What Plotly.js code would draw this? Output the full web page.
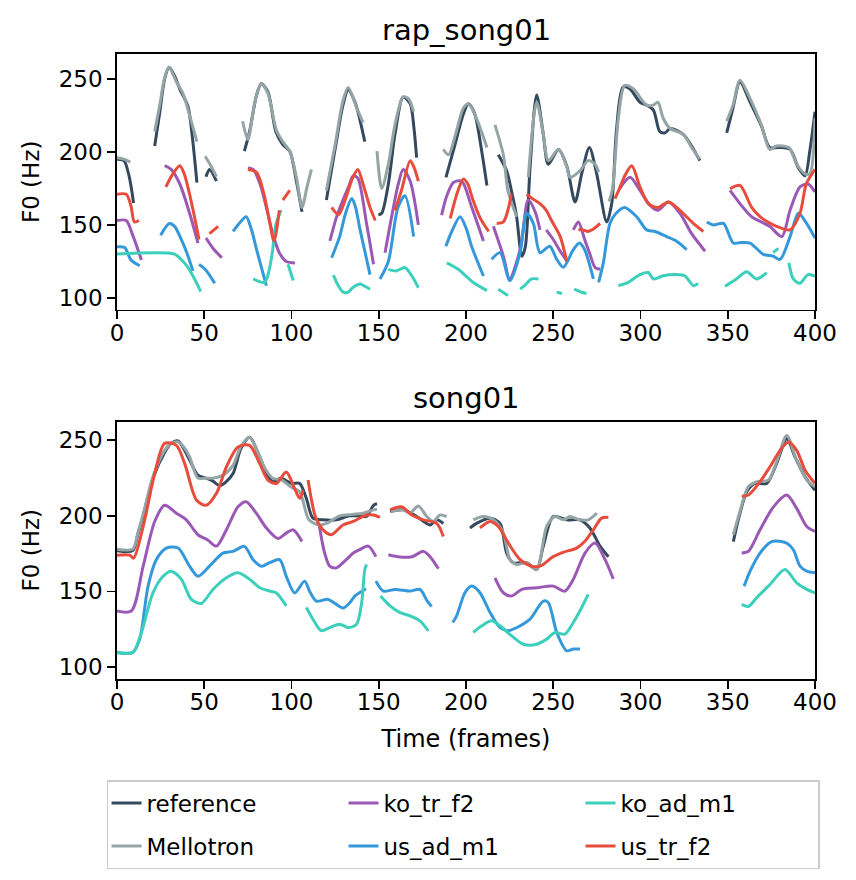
<!DOCTYPE html>
<html>
<head>
<meta charset="utf-8">
<script src="https://cdn.plot.ly/plotly-3.0.1.min.js"></script>
<style>
  html, body { margin: 0; padding: 0; background: #fff; }
  #f0Plot { width: 856px; height: 880px; }
</style>
</head>
<body>
<div id="f0Plot"></div>
<script>
// series names / colours (legend order is column-wise like the original)
var seriesNames = ["reference", "Mellotron", "ko_tr_f2", "us_ad_m1", "ko_ad_m1", "us_tr_f2"];
var seriesColors = ["#34495e", "#95a5a6", "#9b59b6", "#3498db", "#3ccfbb", "#e74c3c"];
var legendRanks = [1, 4, 2, 5, 3, 6];

var xTicks = [0, 50, 100, 150, 200, 250, 300, 350, 400];
var yTicks = [100, 150, 200, 250];

// ---- rap_song01 : [frame, F0] pairs, null = unvoiced gap ----
var rapRef = [
  [0,195],[4,194],[7,183],[9.5,165], null,
  [21.6,204],[24.5,227],[27.3,250],[29.8,258],[33,252],[36,243],[40.7,231],[43,212],[45.8,179], null,
  [51,183],[53,188],[57,180], null,
  [73,200.5],[76,214],[80,239],[82.7,246.6],[86.5,241],[91,214],[95,205],[99,200.5],[102.8,180],[106,159], null,
  [120,167],[125.7,207],[129.5,232],[132.5,242.5],[136.4,234],[139,223],[142,207], null,
  [149.8,157],[151.7,158],[155.5,178],[159.3,212],[164,237.6],[168,233],[170.2,216],[171.7,196], null,
  [188.5,182.6],[193.7,205],[198.5,226],[201.4,233],[205,226],[209,200.5],[212,177], null,
  [218.5,198],[223.3,187],[226,173.6],[229,155.6],[232,128.6],[234,135],[236.7,189],[240.5,239],[244.3,212],
  [247.2,191.5],[253,201.7],[257.7,190.5],[262.5,165.7],[266.3,185],[270.7,203],[274.9,185],[280.6,152],
  [283.5,164.6],[286.3,216],[290,244.4],[294,243],[299.7,234],[303.5,232],[307.4,228.6],[311,214],[314,213],
  [317,216],[324.5,212],[329.3,204],[334,194], null,
  [349.4,213],[353,230],[357,247.8],[362.8,234],[369.4,217.4],[374,203],[379,203],[385.7,201.7],[390.5,189],
  [394.3,183.7],[397,200.5],[400,227.5]
];
var rapMel = [
  [0,196],[4,195],[7.6,193], null,
  [21.6,214],[24.5,232],[27.3,251],[29.8,258],[34,248],[37.8,240],[41.6,225],[45.8,207], null,
  [50.5,197],[54,190],[57,183], null,
  [72,221],[75,208.4],[79,234],[82.7,246.6],[86.5,240],[91.3,215],[95,207],[99,200.5],[102.8,182.6],[106,162],
  [108.9,176],[111.4,188], null,
  [120,173.6],[125,205],[129.5,235],[132.5,244],[137.4,230],[141,220], null,
  [149,200.5],[151.7,175],[155.5,191.6],[159.3,218.5],[164,237.6],[167,236.5],[170,227.5], null,
  [187,201.7],[190,198],[194,212],[198.5,230],[201.4,233],[206,223],[212,203], null,
  [216.6,218.5],[221.4,198],[224,173.6],[229,155.6], null,
  [235.7,182.6],[240.5,234],[244.3,212],[247.2,194],[253,201.7],[257.7,190],[259.6,182.6],[265.3,187],
  [270,194],[274,191.5],[276,186], null,
  [282,166],[284,175],[287.3,223],[291,245.5],[296,243],[303.5,232],[307.4,232],[310,234],[313,223],
  [317,216],[324.5,212],[329.3,203],[334,195], null,
  [349.4,221],[353,232],[357,249],[362.8,236.5],[369.4,218],[374,201.7],[378,204],[385,203],[389.5,191.5],
  [394.3,185],[397,185],[400,223]
];
var rapKoTr = [
  [0,153],[5.3,153],[9,143],[14,126], null,
  [27.3,190.5],[31,188],[36,178],[41.6,158],[46.4,137.6], null,
  [51,141],[55,134],[60,127.5], null,
  [75,189],[78,188],[82,178],[85.6,162],[89,145],[93,131],[97,125],[102,124], null,
  [122,139],[125.7,155],[129.5,167],[133,177],[135.4,183.7],[138,182],[143,151],[147,123], null,
  [153.6,131],[158.4,162],[161,177],[164,188],[168,180],[172.7,150], null,
  [186,156.7],[189,170],[192.8,179],[197.5,180],[203.3,162],[210,139], null,
  [215.7,149],[221.4,128.6],[225,113],[231,133],[235.7,167],[239.6,159],[242.4,146.6], null,
  [246,146.6],[250,140],[254,132],[258,125], null,
  [261.5,146.6],[264.4,152],[268,140],[271,130],[274,120.8],[277,119.6], null,
  [288,174.7],[294,182.6],[299.7,173.6],[305.4,163.5],[310,160],[316,165.7],[322.6,158],[329.3,144],[337,132], null,
  [351.3,173.6],[357,164.6],[363.7,155.6],[374,149],[381,142],[385.7,160],[391.4,176],[396,178],[400,172.5]
];
var rapUsAd = [
  [0,135],[4.4,134.5],[8,126],[13,122], null,
  [25,143],[30,151],[33,149],[36.5,141],[40,131],[43.5,118.5], null,
  [47,123],[51,119],[56,110], null,
  [66.5,145.5],[70,151],[74,155.6],[77,147],[80,133],[85.6,108.4], null,
  [123,127.5],[127.6,142],[131,158],[134.5,168],[136.5,163],[139.3,146.6],[145,116], null,
  [150.7,113],[155.5,125],[161,162],[165,170],[170,142], null,
  [188.5,135.4],[192,146],[196.6,155.6],[200,148],[203.3,135],[210,115], null,
  [214.7,126.4],[219.5,131],[225.2,111.8],[231,131],[234.8,158],[238.6,151],[242.4,131],[248,135.4],[252,126.4],
  [255.8,121],[261.5,133],[265,137.6],[268,133],[273,113], null,
  [276,110.7],[278.7,124],[282.5,151],[286,158],[291,162],[297.8,155.6],[303.5,146.6],[308.3,145.5],[315,142],
  [320.7,138.8],[326.5,133], null,
  [338,152],[341.7,150],[347.5,151],[353.2,137.6],[358,138],[362.8,137.6],[370.4,129.8],[376,128.6],[380,126.4],
  [385.7,142],[390.5,158],[395.2,151],[400,141]
];
var rapKoAd = [
  [0,130],[33,130],[37,126],[40,122],[44,114],[48,104.4], null,
  [78,113],[84.6,110.7],[87,118],[89,131],[91,150],[94,160], null,
  [98,123],[101,112], null,
  [124,115.6],[127,108],[129.6,104],[132.6,104],[135,107],[139.3,109.6],[142,108],[145,106], null,
  [155.5,119.6],[160,118.5],[165,120.8],[169,115],[172.7,107], null,
  [189,124],[195.6,119.6],[200,115],[204,110.7],[212,105], null,
  [218.5,106],[224,101.7], null,
  [231,106],[234,109],[237.6,113],[241.5,113], null,
  [252,104],[255,103], null,
  [262,106],[266,104],[269,103], null,
  [287.3,108.4],[293,110.7],[299.7,116],[304.5,117.4],[307.4,113],[313,115.2],[320.7,116],[325.5,115],
  [330.3,108.4],[333,110], null,
  [348.4,108],[355,113],[360.8,118],[366.6,113],[372.3,117.4], null,
  [376,131],[379,134], null,
  [385,124],[387.6,113],[391.4,110],[396,116],[400,115]
];
var rapUsTr = [
  [0,171],[5.3,171],[8,163],[10,152],[12.6,153], null,
  [28,176],[32,185],[36,190.5],[38.5,185],[41.6,171],[44.5,155],[47,140], null,
  [53,144],[58,149], null,
  [75,188],[80,186],[84,172],[87,155],[90,139],[93,160], null,
  [95,167],[99,173.6], null,
  [123,162],[127,157],[131,168],[135,182],[138,188],[141,178],[145,162],[148,153], null,
  [159.3,160],[163,173.6],[168,194],[170,190],[172.7,180], null,
  [191,154.5],[195,172],[198.5,181.5],[201,178],[204,167],[208,155],[213,145.5], null,
  [217.6,151],[221.4,152],[224,160],[226,171], null,
  [234.8,171],[238,168],[242.4,164.6],[246,160],[249,153],[254,142],[257.7,125], null,
  [264.4,146.6],[267,146.6],[270,145.5],[274,148],[276.8,151], null,
  [285.4,168],[288,175],[291,183.7],[295,190.5],[299.7,176],[304.5,164.6],[310,162],[316,165.7],[322.6,160],
  [330.3,151],[336,145.5], null,
  [351.3,174.7],[357,177],[363.7,162],[368.5,155.6],[373,152],[378,149],[385.7,146.6],[391.4,158],[395,178],[400,188]
];

// ---- song01 ----
var songRef = [
  [0,177],[9,177],[12,188],[15,200],[20.6,225],[27.3,242],[31,248],[35,249.6],[38,245],[41.6,237],[46.4,227],
  [51,225],[55,223],[58.8,220],[62,222],[66.5,228],[71,244.5],[76,252],[81.8,239],[85,230],[89.4,222.6],[94,225],
  [100,221.5],[104.7,221.5],[108.5,211.6],[112.3,198.5],[118,197.4],[125.7,197.4],[133.3,200],[139,200],
  [143,199.6],[147,207],[149,208], null,
  [156.5,203],[164,204],[171.7,199.6],[179.4,194],[183.2,197.4],[187,195], null,
  [202.3,192],[206,195],[213.8,198.5],[219.5,195],[223.3,175.4],[227,169],[234.8,169],[240.5,164.5],[244.3,180],
  [250,199.6],[257.7,197.4],[265.3,197.4],[271,192],[276.8,180],[281.6,173], null,
  [353.2,183],[357,201.8],[360.9,216],[365.6,221.5],[372.3,221.5],[378,234.6],[383.8,251],[388.6,239],
  [394.3,225.9],[400,217]
];
var songMel = [
  [0,178],[9,178],[12,189],[15,201],[20.6,226],[27.3,243.4],[31,248],[35,249],[38,246],[41.6,239],[46.4,225],
  [51,225],[55,225],[60.7,227],[66.5,233.5],[71,246],[76,252],[81.8,239],[85,231],[89.4,224.8],[94,224],
  [100,219],[104.7,216],[110,197.4],[116,194],[120,195],[127.6,200],[135,201],[141,201.8],[147,204],[149,204.5], null,
  [157,203],[164,204],[168,201.8],[172.7,206.6],[177.5,199.6],[181.3,196.3],[185,200.6],[188.9,199.6], null,
  [204.2,197.4],[210,199.6],[215.7,197.4],[221.4,188.6],[225.2,171],[229,167.8],[234.8,169],[240.5,164.5],
  [246.2,193],[251,199.6],[255.8,197.4],[259.6,199.6],[265.3,197.4],[270,197.4],[275,201.8], null,
  [353.2,187.5],[357,203],[361.8,219.3],[366.6,222.6],[373.3,223.7],[378,235.7],[383.8,253.3],[389.5,236.8],
  [395.3,223.7],[400,219.3]
];
var songKoTr = [
  [0,137],[8.2,137],[15,166.7],[21.6,196.3],[27.3,207],[34,201.8],[39.7,197.4],[46.4,187.5],[52,184],[57,180],
  [62.7,190.8],[69.3,206],[74,209.4],[79.8,201.8],[85.6,192],[92.3,185],[97,188.6],[100.9,190.8],[106,183], null,
  [116,193],[119,175.4],[121.9,166.7],[125.7,165.6],[131.4,171],[135.4,175.4],[139,177.6],[144,180],[148.4,173], null,
  [155.5,174.3],[162.2,172.8],[169,173],[175.6,176.5],[179.4,173],[184.2,165], null,
  [216.6,159],[221.4,149.1],[226.2,147],[232,151.3],[240.5,152.4],[250,153.5],[256.7,150.2],[261.5,158],
  [268.2,175.4],[274,182],[279.7,171],[284.4,158.3], null,
  [358,175.4],[361.8,176.5],[368.5,190.8],[376.2,206],[383.8,213.8],[389.5,205],[395.3,193],[400,189.7]
];
var songUsAd = [
  [0,109.6],[9,109.6],[13,118.4],[17.8,153.5],[22.5,171],[28.3,178.7],[35,178.7],[41.6,166.7],[46.4,160],
  [53,166.7],[60.7,175.4],[66.5,176.5],[73,179.8],[78,171],[82.7,166.7],[87.5,169],[93.2,171],[97,160],
  [101.8,149],[107.5,156.8],[110.4,150],[114.2,143.6],[121,144.7],[129.5,139],[133,142],[136.4,147],[142.7,151.8], null,
  [148.4,156.8],[152.6,150.2],[159.3,151.3],[168,150.2],[173.6,151.3],[177.8,143.6],[180.3,140], null,
  [192.4,129.4],[194.7,134],[199.4,149.1],[203.3,153.5],[208,149.1],[213.8,136],[219.5,126],[224.3,124],
  [231,127.2],[236.7,131.6],[244.3,143.6],[247.2,142.5],[252,122.8],[257.7,110.7],[261.5,111.8],[265.3,111.8], null,
  [359.4,153.5],[362.8,163.4],[368.5,175.4],[375.2,183],[383.8,182],[387.6,177.6],[391.4,166.7],[395.3,163.4],[400,162.3]
];
var songKoAd = [
  [0,109.6],[9,109.6],[14,122.8],[20.6,149],[26.4,160],[31,163.4],[36.9,158],[42.6,144.7],[48.3,142],[55,151.3],
  [62.7,159],[69.3,162.3],[76,158],[81.8,152.4],[87.5,150.2],[91.3,149],[97,140.4], null,
  [108.5,139.3],[112.3,131.6],[117,124],[121.9,126],[127.6,128.3],[132.6,126],[137.3,128.3],[140.2,142.5],
  [142,164.5],[143,167.8], null,
  [151,147],[156.5,140.4],[162.2,136],[168,133.8],[173.6,130.5],[178.4,123.9], null,
  [204.2,122.8],[209,127.2],[214.7,130.5],[219.5,127.2],[226.2,120.6],[232.9,115],[240.5,115],[246.2,118.4],
  [251,122.8],[256.7,121.7],[261.5,129.4],[266.3,139.3],[270,148], null,
  [358,141.4],[361.8,140],[366.6,145.8],[374.2,154.6],[382.8,164.5],[389.5,155.7],[395.3,151.3],[400,149]
];
var songUsTr = [
  [0,174],[7.3,174],[9.5,172],[15,193],[21.6,228],[27.3,248],[34,246.7],[38.8,234.6],[45.5,210.5],[51,207],
  [57,215],[62.7,232.5],[69.3,245.6],[76,246.7],[81.8,234.6],[86.5,223.7],[91.3,221.5],[97,229],[101.8,218],
  [104.7,211.6],[106.6,217], null,
  [109.5,223.7],[114,198.5],[119,189.7],[122.8,187.5],[129.5,194],[135.4,196.3],[139,198.5],[143,200.6],
  [147,200.6],[150.7,199], null,
  [156.5,204],[163.1,206],[168.9,200.6],[175.6,197.4],[183.2,195],[187,186.4], null,
  [208,192],[213.8,196.3],[218.5,193],[224.3,182],[231,171],[237.6,166.7],[242.4,166.7],[250,173],[256,176],
  [263.4,178.7],[268,183],[273,190.8],[277.7,198.5],[281.6,199], null,
  [358,213],[361.8,213.8],[368.5,222.6],[374.2,232.5],[380,243.4],[384.8,249],[389.5,243.4],[394.3,230.3],[400,221.5]
];

var rapSeries = [rapRef, rapMel, rapKoTr, rapUsAd, rapKoAd, rapUsTr];
var songSeries = [songRef, songMel, songKoTr, songUsAd, songKoAd, songUsTr];

function splitPairs(pairs) {
  var xs = [], ys = [];
  pairs.forEach(function (p) {
    if (p === null) { xs.push(null); ys.push(null); }
    else { xs.push(p[0]); ys.push(p[1]); }
  });
  return { x: xs, y: ys };
}

var FONT = "DejaVu Sans, Liberation Sans, sans-serif";
var LW = 3;
var data = [];

rapSeries.forEach(function (s, i) {
  var xy = splitPairs(s);
  data.push({
    x: xy.x, y: xy.y, xaxis: "x", yaxis: "y",
    type: "scatter", mode: "lines",
    name: seriesNames[i], legendgroup: seriesNames[i], legendrank: legendRanks[i],
    line: { color: seriesColors[i], width: LW, shape: "spline", smoothing: 0.8 },
    connectgaps: false, hoverinfo: "skip"
  });
});
songSeries.forEach(function (s, i) {
  var xy = splitPairs(s);
  data.push({
    x: xy.x, y: xy.y, xaxis: "x2", yaxis: "y2",
    type: "scatter", mode: "lines",
    name: seriesNames[i], legendgroup: seriesNames[i], showlegend: false,
    line: { color: seriesColors[i], width: LW, shape: "spline", smoothing: 0.8 },
    connectgaps: false, hoverinfo: "skip"
  });
});

var axisBase = {
  showline: true, mirror: true, linecolor: "#000", linewidth: 1.8,
  ticks: "outside", ticklen: 8, tickwidth: 1.8, tickcolor: "#000",
  showgrid: false, zeroline: false,
  tickfont: { family: FONT, size: 23, color: "#000" }
};

function ax(extra) { return Object.assign({}, axisBase, extra); }

var layout = {
  width: 856, height: 880,
  paper_bgcolor: "#fff", plot_bgcolor: "#fff",
  font: { family: FONT, color: "#000" },
  margin: { l: 117, r: 41, t: 54, b: 200 },
  showlegend: true,
  xaxis: ax({ domain: [0, 1], anchor: "y", range: [0, 400], tickvals: xTicks, ticklabelstandoff: -6 }),
  yaxis: ax({ domain: [0.591, 1], anchor: "x", range: [92, 267], tickvals: yTicks,
    title: { text: "F0 (Hz)", font: { family: FONT, size: 23 }, standoff: 13 } }),
  xaxis2: ax({ domain: [0, 1], anchor: "y2", range: [0, 400], tickvals: xTicks, ticklabelstandoff: -6,
    title: { text: "Time (frames)", font: { family: FONT, size: 24 }, standoff: 16 } }),
  yaxis2: ax({ domain: [0, 0.412], anchor: "x2", range: [92, 262.5], tickvals: yTicks,
    title: { text: "F0 (Hz)", font: { family: FONT, size: 23 }, standoff: 13 } }),
  annotations: [
    { text: "rap_song01", xref: "paper", yref: "paper", x: 0.5, y: 1, xanchor: "center", yanchor: "middle",
      yshift: 24, showarrow: false, font: { family: FONT, size: 29, color: "#000" } },
    { text: "song01", xref: "paper", yref: "paper", x: 0.5, y: 0.412, xanchor: "center", yanchor: "middle",
      yshift: 24, showarrow: false, font: { family: FONT, size: 29, color: "#000" } }
  ],
  legend: {
    orientation: "h", xref: "paper", yref: "paper",
    x: -0.015, xanchor: "left", y: -0.16, yanchor: "top",
    entrywidth: 192, bgcolor: "#fff", bordercolor: "#cccccc", borderwidth: 1.5,
    font: { family: FONT, size: 23, color: "#000" }
  }
};

var config = { staticPlot: true, displaylogo: false };

Plotly.newPlot("f0Plot", data, layout, config);
</script>
</body>
</html>
